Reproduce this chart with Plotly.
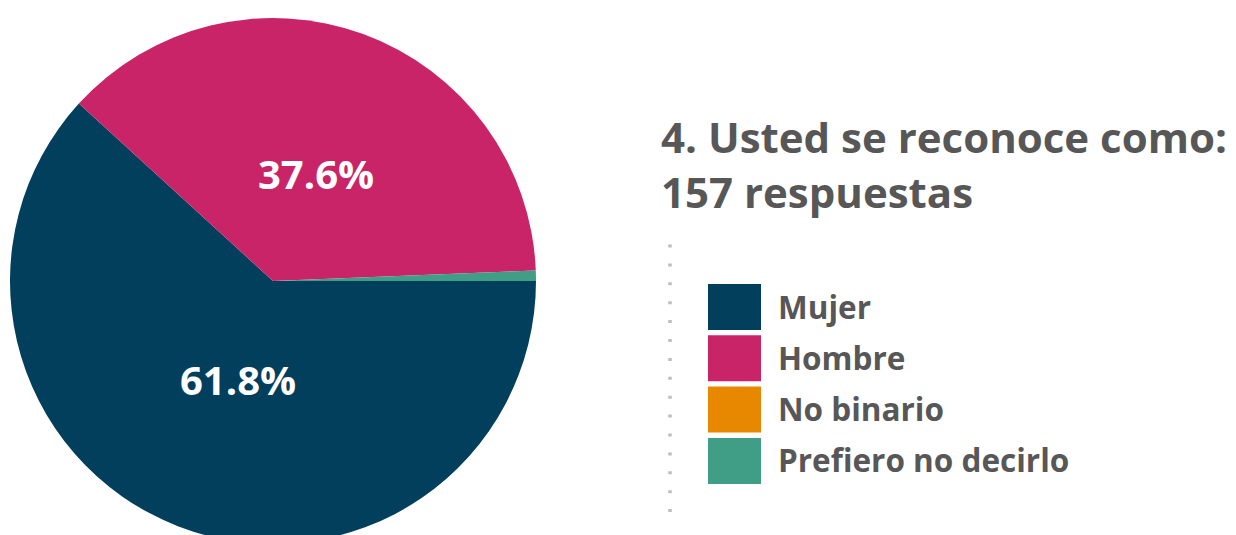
import math
import plotly.graph_objects as go

labels = ["Mujer", "Hombre", "No binario", "Prefiero no decirlo"]
counts = [97, 59, 0, 1]
colors = ["#023F5C", "#C92468", "#E88700", "#3F9E85"]
title_lines = ["4. Usted se reconoce como:", "157 respuestas"]

W, H = 1236, 550
FONT = "Open Sans"
GRAY = "#575757"
CX, CY, R = 273, 281, 263

def py(p):
    return 1 - p / H

def px(p):
    return p / W

fig = go.Figure()
fig.add_trace(go.Pie(
    labels=labels, values=counts, sort=False, direction="clockwise", rotation=90,
    marker=dict(colors=colors, line=dict(width=0)),
    textinfo="none",
    domain=dict(x=[px(CX - R), px(CX + R)], y=[py(CY + R), py(CY - R)]),
    showlegend=False, hoverinfo="label+percent",
))

annotations = []
# percentage labels placed along each slice bisector (computed from counts)
total = sum(counts)
start = 0.0  # degrees, math convention, pie goes clockwise from 3 o'clock
for lab, c in zip(labels, counts):
    frac = c / total
    span = 360 * frac
    mid = math.radians(start - span / 2)
    start -= span
    if frac < 0.05:
        continue
    rr = 0.42 * R
    annotations.append(dict(
        text=f"{frac * 100:.1f}%", x=px(CX + rr * math.cos(mid) + 5), y=py(CY - rr * math.sin(mid) - 4),
        xref="paper", yref="paper", xanchor="center", yanchor="middle", showarrow=False,
        font=dict(family=FONT, size=40, color="white", weight="bold"),
    ))

annotations.append(dict(
    text="<br>".join(title_lines), x=px(659), y=py(106), xref="paper", yref="paper",
    xanchor="left", yanchor="top", align="left", showarrow=False,
    font=dict(family=FONT, size=42, color=GRAY, weight="bold"),
))

shapes = [dict(type="line", xref="paper", yref="paper", x0=px(670), x1=px(670),
               y0=py(244.5), y1=py(513), line=dict(color="#BDBDBD", width=3.5, dash="3px,15.9px"))]
for i, (lab, col) in enumerate(zip(labels, colors)):
    top = 284 + 51.3 * i
    shapes.append(dict(type="rect", xref="paper", yref="paper",
                       x0=px(708), x1=px(761), y0=py(top + 46), y1=py(top),
                       fillcolor=col, line=dict(width=0)))
    annotations.append(dict(
        text=lab, x=px(776), y=py(top + 22), xref="paper", yref="paper",
        xanchor="left", yanchor="middle", showarrow=False,
        font=dict(family=FONT, size=31.5, color=GRAY, weight="bold"),
    ))

fig.update_layout(
    width=W, height=H, margin=dict(l=0, r=0, t=0, b=0),
    paper_bgcolor="white", plot_bgcolor="white",
    annotations=annotations, shapes=shapes,
)

fig.write_html("out.html", config={"displayModeBar": False},
               post_script="document.body.style.overflow='hidden';document.documentElement.style.overflow='hidden';")
